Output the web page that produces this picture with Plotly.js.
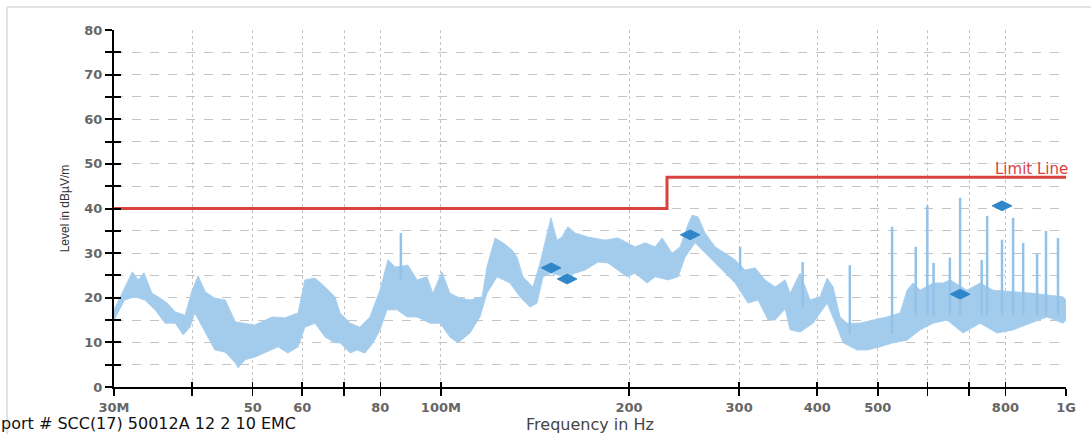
<!DOCTYPE html>
<html>
<head>
<meta charset="utf-8">
<script src="https://cdn.plot.ly/plotly-3.0.1.min.js"></script>
<style>
html,body{margin:0;padding:0;background:#fff;}
#chart{width:1091px;height:434px;}
</style>
</head>
<body>
<div id="chart"></div>
<script>
// ---- data (frequency in MHz, level in dBµV/m) ----
const upperFreq = [30,31.2,32.1,32.8,33.5,34.5,35.3,36.5,37.6,39.0,40.0,40.9,42.0,43.5,45.2,46.9,48.6,50.4,53.7,56.3,59.1,60.6,62.9,65.3,67.7,69.0,71.6,74.2,77.0,79.9,82.3,84.5,88.6,91.6,95.0,97.1,100.4,103.4,107.3,111.3,116.4,118.5,122.1,125.7,130.0,132.4,135.3,140.4,144.1,147.8,150.0,153.4,156.2,159.7,163.9,172.0,183.1,192.1,198.6,204.5,212.2,220.1,225.9,234.4,241.4,247.7,252.3,257.9,264.6,274.6,284.9,295.6,306.7,318.2,330.1,342.5,355.4,362.0,375.5,389.6,404.2,414.8,424.1,435.1,446.5,468.4,491.4,517.4,542.8,557.0,569.4,584.3,612.9,635.9,652.5,694.7,728.8,764.5,885.8,989.3,1000];
const upperLevel = [17.3,22.4,25.8,24.0,25.6,21.0,20.2,18.8,16.8,16.1,21.7,24.9,21.3,19.9,19.5,14.6,14.3,13.9,15.7,15.5,16.6,24.0,24.4,22.4,20.2,16.6,14.3,13.4,15.7,21.7,28.5,26.9,27.3,24.0,24.7,21.0,25.8,21.0,19.9,19.5,20.2,26.9,33.4,32.3,30.7,29.1,24.7,22.4,27.8,34.5,37.9,32.9,33.6,35.9,34.5,33.6,32.9,33.4,32.3,31.4,32.3,31.4,33.4,30.0,31.4,35.9,38.5,38.1,34.5,31.4,30.0,28.5,26.2,26.7,24.0,22.4,24.0,21.0,25.5,19.5,20.2,24.4,22.4,15.7,14.3,14.3,15.0,15.7,16.6,21.7,23.3,21.7,23.3,23.3,24.0,21.7,23.3,21.7,21.0,20.2,19.5];

const lowerFreq = [30,31.2,32.4,33.6,34.9,36.2,37.6,38.7,39.7,40.4,42.0,43.5,45.2,46.9,47.4,48.6,50.4,52.3,54.9,56.9,59.1,60.6,62.9,65.3,67.7,69.0,71.6,73.4,75.6,77.9,79.9,82.0,85.1,88.3,91.6,96.1,99.7,103.4,106.5,111.3,115.5,118.5,123.0,129.0,133.8,138.9,142.5,145.7,150.0,158.0,163.9,170.1,178.4,185.1,192.1,198.6,204.5,213.7,220.1,230.9,239.6,245.8,255.1,264.6,274.6,284.9,295.6,310.1,321.7,333.8,342.5,355.4,362.0,375.5,393.9,414.8,430.4,440.0,463.3,480.7,504.2,528.9,557.0,584.3,612.9,645.3,684.5,728.8,775.8,822.9,876.1,932.7,989.3,1000];
const lowerLevel = [15.0,19.5,20.2,19.5,17.3,14.3,14.3,11.7,13.4,16.6,12.1,8.3,7.8,5.4,4.3,6.1,6.7,7.6,9.0,7.6,9.0,13.4,14.3,11.2,9.9,9.9,7.6,8.3,7.6,9.9,12.8,17.3,17.3,15.7,15.7,14.3,14.3,11.2,9.9,12.1,15.7,21.0,24.7,23.3,20.2,17.9,18.8,24.7,25.5,24.7,25.5,26.2,28.0,27.8,26.2,24.7,25.5,23.3,24.7,24.0,24.7,29.1,32.3,30.0,27.8,25.5,23.3,18.8,19.5,15.0,15.0,17.5,12.8,12.3,14.3,18.8,13.4,9.9,8.3,8.3,9.0,9.9,10.5,12.8,14.3,15.0,12.1,14.3,12.1,12.8,14.3,15.7,14.3,15.0];

const spikeFreq = [86.3,301.1,379,451,527,575,600,614,652,677,733,748,790,823,854,899,929,971];
const spikeTop  = [34.5,31.4,28.0,27.3,35.9,31.4,40.6,27.8,29.0,42.4,28.5,38.3,33.0,37.9,32.3,29.8,35.0,33.4];
const spikeBase = [24,26,18,12,12,16,16,16,16,16,16,16,16,16,16,16,16,16];

const peakFreq  = [150.1,159.2,250.5,677,790];
const peakLevel = [26.7,24.2,34.1,20.8,40.6];

const limitFreq  = [30,230,230,1000];
const limitLevel = [40,40,47,47];

const xTickVals = [30,40,50,60,70,80,100,200,300,400,500,600,700,800,1000];
const xTickText = ['30M','','50','60','','80','100M','200','300','400','500','','','800','1G'];
const yTickVals = [0,10,20,30,40,50,60,70,80];
const yTickText = ['0','10','20','30','40','50','60','70','80'];

// ---- build traces ----
const bandX = upperFreq.concat(lowerFreq.slice().reverse());
const bandY = upperLevel.concat(lowerLevel.slice().reverse());

const spX = [], spY = [];
spikeFreq.forEach((f,i)=>{ spX.push(f,f,null); spY.push(spikeBase[i], spikeTop[i], null); });

const traces = [
  {x: bandX, y: bandY, type:'scatter', mode:'lines', fill:'toself',
   fillcolor:'#a3cbec', line:{color:'#a9d0f0', width:1}, hoverinfo:'skip', showlegend:false},
  {x: spX, y: spY, type:'scatter', mode:'lines', line:{color:'#93c2e8', width:2.5},
   hoverinfo:'skip', showlegend:false},
  {x: limitFreq, y: limitLevel, type:'scatter', mode:'lines', line:{color:'#d9433f', width:3},
   showlegend:false},
  {x: peakFreq, y: peakLevel, type:'scatter', mode:'markers', xaxis:'x2', yaxis:'y2',
   marker:{symbol:'diamond-wide', size:14, color:'#2f86c8', line:{color:'#2f86c8', width:1}},
   showlegend:false}
];

const xr = [Math.log10(30), 3];
const tickFont = {family:'DejaVu Sans', size:13, color:'#666', weight:'bold'};

const layout = {
  width:1091, height:434,
  margin:{l:114, r:25, t:30, b:47},
  paper_bgcolor:'#fff', plot_bgcolor:'#fff',
  showlegend:false,
  xaxis:{type:'log', range:xr, tickmode:'array', tickvals:xTickVals, ticktext:xTickText,
    ticks:'outside', ticklen:7, tickwidth:1.5, tickcolor:'#000',
    showline:true, linecolor:'#000', linewidth:2,
    showgrid:true, gridcolor:'#c4c4c4', griddash:'dot', gridwidth:1,
    zeroline:false, tickfont:tickFont, ticklabelstandoff:0,
    title:{text:'Frequency in Hz', font:{family:'DejaVu Sans', size:16, color:'#444'}, standoff:8}},
  yaxis:{range:[0,80], tickmode:'array', tickvals:yTickVals, ticktext:yTickText,
    ticks:'outside', ticklen:7, tickwidth:2, tickcolor:'#000',
    minor:{dtick:5, tick0:0, ticks:'outside', ticklen:7, tickwidth:2, tickcolor:'#000',
      showgrid:true, gridcolor:'#c4c4c4', griddash:'dash', gridwidth:1},
    showline:true, linecolor:'#000', linewidth:2,
    showgrid:true, gridcolor:'#c4c4c4', griddash:'dash', gridwidth:1,
    zeroline:false, tickfont:tickFont,
    title:{text:'Level in dBµV/m', font:{family:'Liberation Sans', size:12, color:'#333'}, standoff:12}},
  xaxis2:{type:'log', range:xr, overlaying:'x', anchor:'y2', side:'bottom',
    tickmode:'array', tickvals:xTickVals, ticks:'inside', ticklen:5, tickwidth:1.5, tickcolor:'#000',
    showticklabels:false, showgrid:false, zeroline:false, showline:false},
  yaxis2:{range:[0,80], overlaying:'y', anchor:'x2', side:'left',
    tickmode:'array', tickvals:yTickVals, ticks:'inside', ticklen:7, tickwidth:2, tickcolor:'#000',
    minor:{dtick:5, tick0:0, ticks:'inside', ticklen:7, tickwidth:2, tickcolor:'#000', showgrid:false},
    showticklabels:false, showgrid:false, zeroline:false, showline:false},
  shapes:[
    {type:'line', xref:'paper', yref:'paper', x0:-0.1124, x1:1.03, y0:1.0644, y1:1.0644,
     line:{color:'#e2e2e2', width:2}},
    {type:'line', xref:'paper', yref:'paper', x0:-0.1124, x1:-0.1124, y0:1.0644, y1:-0.14,
     line:{color:'#e2e2e2', width:2}}
  ],
  annotations:[
    {text:'Limit Line', x:3, y:47, xref:'x', yref:'y', xanchor:'right', yanchor:'bottom',
     showarrow:false, font:{family:'DejaVu Sans', size:15, color:'#d9433f'}, yshift:-3, xshift:4},
    {text:'port # SCC(17) 50012A 12 2 10 EMC', xref:'paper', yref:'paper',
     x:-0.1198, y:-0.1317, xanchor:'left', yanchor:'bottom', showarrow:false, borderpad:0,
     font:{family:'DejaVu Sans', size:16, color:'#111'}}
  ]
};

Plotly.newPlot('chart', traces, layout, {displayModeBar:false, staticPlot:true});
</script>
</body>
</html>
